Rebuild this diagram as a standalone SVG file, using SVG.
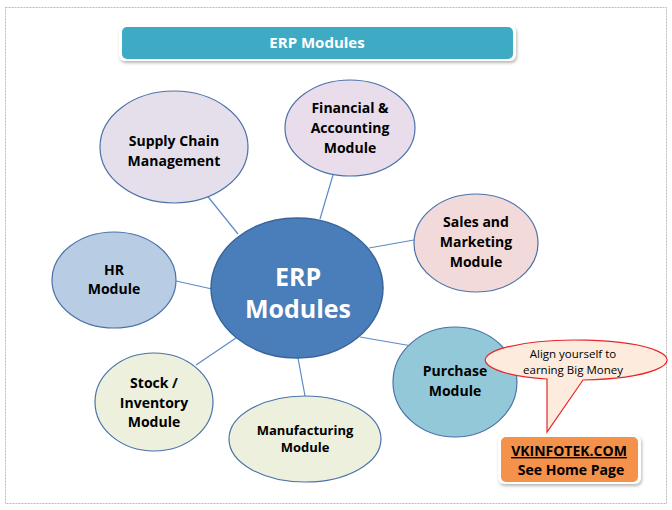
<svg xmlns="http://www.w3.org/2000/svg" width="672" height="510" viewBox="0 0 672 510">
<defs>
<style>
text{font-family:"Open Sans","Liberation Sans",Arial,sans-serif;font-weight:bold;fill:#000;text-anchor:middle}
.n{stroke:#4A72A8;stroke-width:1.2}
.c{stroke:#5B8BC7;stroke-width:1.2;fill:none}
.lbl{font-size:14px}
</style>
<filter id="sh" x="-10%" y="-20%" width="120%" height="150%">
<feDropShadow dx="1" dy="2" stdDeviation="1.5" flood-color="#888" flood-opacity="0.6"/>
</filter>
</defs>
<rect x="0" y="0" width="672" height="510" fill="#fff"/>
<rect x="5.5" y="7.5" width="661" height="496" fill="none" stroke="#bbb" stroke-width="1" stroke-dasharray="2 1"/>
<g id="title">
<rect x="119" y="25" width="397" height="36" rx="6" fill="#fff" filter="url(#sh)"/>
<rect x="122" y="27" width="391" height="32" rx="5" fill="#3FAAC4"/>
<text x="317" y="48" style="font-size:15px;fill:#fff">ERP Modules</text>
</g>
<g id="connectors">
<line class="c" x1="205" y1="193" x2="238" y2="234"/>
<line class="c" x1="333" y1="175" x2="320" y2="219"/>
<line class="c" x1="369" y1="248" x2="414" y2="240"/>
<line class="c" x1="176" y1="281" x2="212" y2="289"/>
<line class="c" x1="196" y1="365" x2="236" y2="338"/>
<line class="c" x1="298" y1="358" x2="305" y2="396"/>
<line class="c" x1="360" y1="337" x2="412" y2="346"/>
</g>
<g id="supply">
<ellipse class="n" cx="174" cy="147" rx="74" ry="56" fill="#E5DFEC"/>
<text class="lbl" x="174" y="146">Supply Chain</text>
<text class="lbl" x="174" y="166">Management</text>
</g>
<g id="financial">
<ellipse class="n" cx="350" cy="128" rx="65" ry="48" fill="#E9DDEB"/>
<text class="lbl" x="350" y="113">Financial &amp;</text>
<text class="lbl" x="350" y="133">Accounting</text>
<text class="lbl" x="350" y="153">Module</text>
</g>
<g id="sales">
<ellipse class="n" cx="476" cy="243" rx="62" ry="49" fill="#F2DADA"/>
<text class="lbl" x="476" y="227">Sales and</text>
<text class="lbl" x="476" y="247">Marketing</text>
<text class="lbl" x="476" y="267">Module</text>
</g>
<g id="hr">
<ellipse class="n" cx="114" cy="280" rx="62" ry="48" fill="#B8CCE4"/>
<text class="lbl" x="114" y="275">HR</text>
<text class="lbl" x="114" y="294">Module</text>
</g>
<g id="erp">
<ellipse cx="297" cy="288" rx="86" ry="70" fill="#4A7EBB" stroke="#3A649A" stroke-width="1.5"/>
<text x="298" y="286" style="font-size:25px;fill:#fff">ERP</text>
<text x="298" y="318" style="font-size:25px;fill:#fff">Modules</text>
</g>
<g id="stock">
<ellipse class="n" cx="154" cy="402" rx="59" ry="49" fill="#ECF0DD"/>
<text class="lbl" x="154" y="388">Stock /</text>
<text class="lbl" x="154" y="408">Inventory</text>
<text class="lbl" x="154" y="427">Module</text>
</g>
<g id="manufacturing">
<ellipse class="n" cx="305" cy="439" rx="76" ry="43" fill="#ECF0DD"/>
<text x="305" y="435" style="font-size:13px">Manufacturing</text>
<text x="305" y="452" style="font-size:13px">Module</text>
</g>
<g id="purchase">
<ellipse class="n" cx="455" cy="382" rx="62" ry="55" fill="#93C8D8"/>
<text class="lbl" x="455" y="376">Purchase</text>
<text class="lbl" x="455" y="396">Module</text>
</g>
<g id="callout">
<path d="M547 379 A91 20 0 1 1 583 380 L547 432 Z" fill="#FDEBDD" stroke="#E8262A" stroke-width="1.2"/>
<text x="573" y="358" style="font-size:11.5px;font-weight:normal">Align yourself to</text>
<text x="573" y="374" style="font-size:11.5px;font-weight:normal">earning Big Money</text>
</g>
<g id="vkinfotek">
<rect x="498" y="435" width="143" height="49" rx="6" fill="#fff" filter="url(#sh)"/>
<rect x="501" y="437" width="137" height="45" rx="5" fill="#F4914A"/>
<text x="569" y="456" style="font-size:14px;text-decoration:underline">VKINFOTEK.COM</text>
<text x="571" y="475" style="font-size:14px">See Home Page</text>
</g>
</svg>
